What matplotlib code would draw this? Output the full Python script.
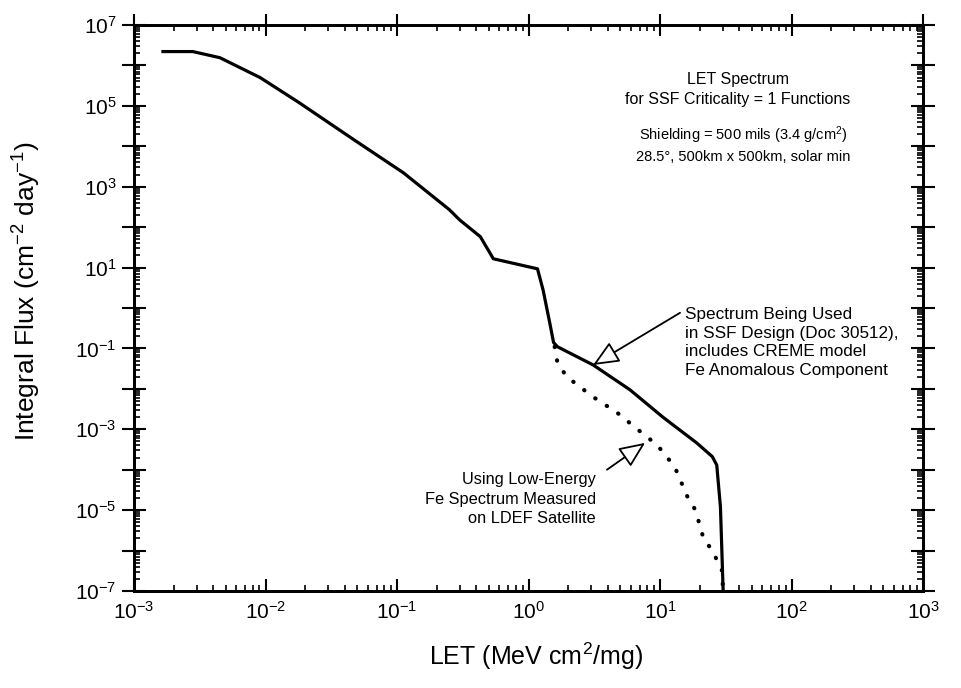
import matplotlib
matplotlib.use("Agg")
import matplotlib.pyplot as plt
import numpy as np
from matplotlib.ticker import FixedLocator, FuncFormatter, NullFormatter

plt.rcParams['font.family'] = ['Liberation Sans', 'DejaVu Sans']
plt.rcParams['mathtext.fontset'] = 'custom'
plt.rcParams['mathtext.rm'] = 'Liberation Sans'
plt.rcParams['mathtext.it'] = 'Liberation Sans:italic'
plt.rcParams['mathtext.bf'] = 'Liberation Sans:bold'

# solid curve: spectrum used in SSF design (CREME, Fe anomalous component)
let_creme = [1.66e-3, 2.8e-3, 4.5e-3, 9.1e-3, 1.8e-2, 4.7e-2, 0.112, 0.25, 0.30, 0.43,
             0.54, 1.17, 1.29, 1.45, 1.55, 1.66, 3.1, 5.9, 10.5, 19, 25, 27, 28.8, 30.2]
flux_creme = [2.2e6, 2.2e6, 1.55e6, 5.0e5, 1.2e5, 1.45e4, 2.2e3, 270, 150, 58,
              16.5, 9.3, 2.8, 0.43, 0.14, 0.11, 0.039, 9.5e-3, 2.0e-3, 4.6e-4, 2.1e-4, 1.3e-4, 1.2e-5, 1e-7]

# dotted curve: low-energy Fe spectrum measured on LDEF
let_ldef = [1.58, 1.66, 1.95, 3.1, 4.7, 7.1, 9.5, 11.2, 12.9, 16.2, 18.6, 21.4, 25, 27, 29.5, 30.2]
flux_ldef = [0.11, 0.044, 0.020, 6.3e-3, 2.6e-3, 8.7e-4, 4.1e-4, 2.1e-4, 1.2e-4, 2.1e-5,
             1.0e-5, 2.0e-6, 1.0e-6, 5.9e-7, 3.3e-7, 1e-7]

x_decades = np.arange(-3, 4)
y_decades = np.arange(-7, 8)
subs = np.arange(2, 10)

x_major = 10.0 ** x_decades
y_major = 10.0 ** y_decades
x_minor = np.concatenate([subs * d for d in x_major[:-1]])
y_minor = np.concatenate([subs * d for d in y_major[:-1]])

fig = plt.figure(figsize=(9.62, 6.88), dpi=100)
ax = fig.add_axes([0.1393, 0.141, 0.8202, 0.8227])

ax.plot(let_creme, flux_creme, color='black', lw=2.3, solid_joinstyle='round')
ax.plot(let_ldef, flux_ldef, color='black', lw=3.0, linestyle=(0, (0.1, 3.2)),
        dash_capstyle='round')

ax.set_xscale('log')
ax.set_yscale('log')
ax.set_xlim(1e-3, 1e3)
ax.set_ylim(1e-7, 1e7)

for s in ax.spines.values():
    s.set_linewidth(2.0)

ax.xaxis.set_major_locator(FixedLocator(x_major))
ax.yaxis.set_major_locator(FixedLocator(y_major))
ax.xaxis.set_minor_locator(FixedLocator(x_minor))
ax.yaxis.set_minor_locator(FixedLocator(y_minor))
ax.xaxis.set_minor_formatter(NullFormatter())
ax.yaxis.set_minor_formatter(NullFormatter())

def dec_label(v, pos):
    e = int(round(np.log10(v)))
    return r'$10^{%d}$' % e

def odd_label(v, pos):
    e = int(round(np.log10(v)))
    return r'$10^{%d}$' % e if e % 2 else ''

ax.xaxis.set_major_formatter(FuncFormatter(dec_label))
ax.yaxis.set_major_formatter(FuncFormatter(odd_label))

ax.tick_params(axis='x', which='major', direction='in', length=9, width=1.5,
               top=False, labelsize=15, pad=7)
ax.tick_params(axis='x', which='minor', direction='in', length=4.5, width=1.2, top=False)
ax.tick_params(axis='y', which='major', direction='inout', length=17, width=1.5,
               right=True, labelsize=15, pad=4)
ax.tick_params(axis='y', which='minor', direction='in', length=4.5, width=1.2, right=True)

# top axis with crossing major ticks
top = ax.twiny()
top.set_xscale('log')
top.set_xlim(ax.get_xlim())
top.xaxis.set_major_locator(FixedLocator(x_major))
top.xaxis.set_minor_locator(FixedLocator(x_minor))
top.xaxis.set_minor_formatter(NullFormatter())
top.tick_params(axis='x', which='major', direction='inout', length=16, width=1.5, labeltop=False)
top.tick_params(axis='x', which='minor', direction='in', length=4.5, width=1.2)
for s in top.spines.values():
    s.set_linewidth(2.0)

ax.set_xlabel(r'LET (MeV cm$^2$/mg)', fontsize=18)
ax.xaxis.set_label_coords(0.5095, -0.088)
ax.set_ylabel(r'Integral Flux (cm$^{-2}$ day$^{-1}$)', fontsize=19)
ax.yaxis.set_label_coords(-0.1153, 0.53)

ax.text(0.765, 0.886, 'LET Spectrum\nfor SSF Criticality = 1 Functions',
        transform=ax.transAxes, ha='center', va='center', linespacing=1.35, fontsize=11.5)
ax.text(0.772, 0.789, 'Shielding = 500 mils (3.4 g/cm$^2$)\n28.5°, 500km x 500km, solar min',
        transform=ax.transAxes, ha='center', va='center', linespacing=1.35, fontsize=10.5)

ax.text(0.698, 0.439, 'Spectrum Being Used\nin SSF Design (Doc 30512),\nincludes CREME model\nFe Anomalous Component',
        transform=ax.transAxes, ha='left', va='center', linespacing=1.3, fontsize=12.3)
ax.annotate('', xy=(3.1, 0.039), xytext=(14.2, 0.76),
            arrowprops=dict(arrowstyle='-|>,head_length=0.8,head_width=0.35', fc='white',
                            ec='black', lw=1.3, shrinkA=0, shrinkB=0, mutation_scale=20))

ax.text(0.5856, 0.1625, 'Using Low-Energy\nFe Spectrum Measured\non LDEF Satellite',
        transform=ax.transAxes, ha='right', va='center', multialignment='right',
        linespacing=1.35, fontsize=11.8)
ax.annotate('', xy=(7.7, 4.6e-4), xytext=(3.95, 1.0e-4),
            arrowprops=dict(arrowstyle='-|>,head_length=0.8,head_width=0.35', fc='white',
                            ec='black', lw=1.3, shrinkA=0, shrinkB=0, mutation_scale=20))

fig.savefig('out.png', dpi=100)
